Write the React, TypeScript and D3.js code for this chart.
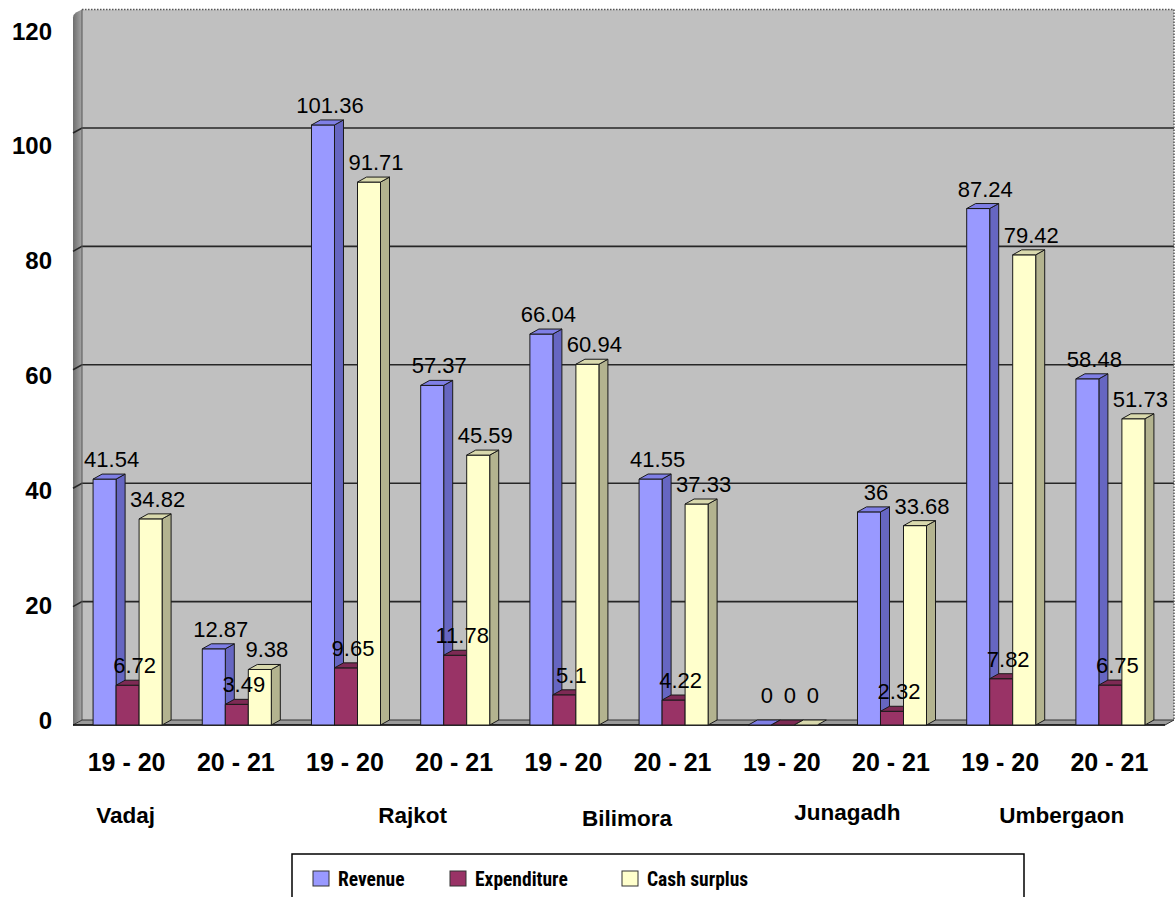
import React from 'react';
import * as d3 from 'd3';

const periods = ['19 - 20', '20 - 21', '19 - 20', '20 - 21', '19 - 20', '20 - 21', '19 - 20', '20 - 21', '19 - 20', '20 - 21'];
const regions = ['Vadaj', 'Rajkot', 'Bilimora', 'Junagadh', 'Umbergaon'];
const revenue = [41.54, 12.87, 101.36, 57.37, 66.04, 41.55, 0, 36, 87.24, 58.48];
const expenditure = [6.72, 3.49, 9.65, 11.78, 5.1, 4.22, 0, 2.32, 7.82, 6.75];
const cashSurplus = [34.82, 9.38, 91.71, 45.59, 60.94, 37.33, 0, 33.68, 79.42, 51.73];
const yTicks = [0, 20, 40, 60, 80, 100, 120];
const seriesNames = ['Revenue', 'Expenditure', 'Cash surplus'];

// face colours per series: front, side, top
const palette = [
  { front: '#9999FF', side: '#6666C2', top: '#7F7FE6' },
  { front: '#993366', side: '#6E2449', top: '#7D2A54' },
  { front: '#FFFFCC', side: '#B3B38F', top: '#D9D9AD' },
];

const W = 1176;
const H = 897;
const DX = 9; // 3d depth
const DY = 5;
const left = 73;
const right = 1165;
const base = 725;

// region label placement (in band steps from the first band centre) and nudges
const regionAnchor = [0, 2.5, 4.5, 6.5, 8.5];
const regionNudge = [{ dx: -2, dy: 0 }, { dx: 12, dy: 0 }, { dx: 8, dy: 3 }, { dx: 10, dy: -3 }, { dx: 6, dy: 0 }];
const legendX = [313, 450, 622];

const App: React.FC = () => {
  const series = [revenue, expenditure, cashSurplus];
  const idx = d3.range(periods.length).map(String);

  const x = d3.scaleBand<string>().domain(idx).range([left, right]).paddingInner(0.368).paddingOuter(0.184);
  const xs = d3.scaleBand<string>().domain(seriesNames).range([0, x.bandwidth()]);
  const y = d3.scaleLinear().domain([0, 120]).range([base, base - 710.4]);
  const yLab = d3.scaleLinear().domain([0, 120]).range([720, 31]);

  const bw = xs.bandwidth();
  const topY = y(120) - DY;

  const bars: JSX.Element[] = [];
  const labels: JSX.Element[] = [];
  idx.forEach((k, i) => {
    seriesNames.forEach((s, j) => {
      const v = series[j][i];
      const x0 = (x(k) as number) + (xs(s) as number);
      const x1 = x0 + bw;
      const yt = y(v);
      const c = palette[j];
      const front = `M${x0},${base}L${x0},${yt}L${x1},${yt}L${x1},${base}Z`;
      const side = `M${x1},${base}L${x1},${yt}L${x1 + DX},${yt - DY}L${x1 + DX},${base - DY}Z`;
      const top = `M${x0},${yt}L${x0 + DX},${yt - DY}L${x1 + DX},${yt - DY}L${x1},${yt}Z`;
      bars.push(
        <g key={`b${i}-${j}`} stroke="#1a1a1a" strokeWidth={1} strokeLinejoin="round">
          {v > 0 && <path d={side} fill={c.side} />}
          {v > 0 && <path d={front} fill={c.front} />}
          <path d={top} fill={c.top} />
        </g>
      );
      const ly = Math.min(yt - 12, base - 22);
      labels.push(
        <text key={`l${i}-${j}`} x={x0 + bw / 2 + 7} y={ly} textAnchor="middle" fontSize={22} fill="#000"
          fontFamily="Liberation Sans, Arial, sans-serif">
          {v}
        </text>
      );
    });
  });

  const step = x.step();
  const firstCentre = (x('0') as number) + x.bandwidth() / 2;

  return (
    <svg width={W} height={H} style={{ position: 'absolute', left: 0, top: 0, background: '#fff' }}
      fontFamily="Liberation Sans, Arial, sans-serif">
      <defs>
        <linearGradient id="sideWall" x1="0" x2="1" y1="0" y2="0">
          <stop offset="0" stopColor="#6e6e6e" />
          <stop offset="0.5" stopColor="#8a8a8a" />
          <stop offset="1" stopColor="#a6a6a6" />
        </linearGradient>
      </defs>

      {/* back wall */}
      <rect x={left + DX} y={topY} width={right - left} height={base - DY - topY} fill="#C0C0C0" />
      {/* side wall */}
      <path d={`M${left},${base}L${left},${y(120) + 3}Q${left},${y(120)} ${left + 3},${y(120) - 2}L${left + DX},${topY}L${left + DX},${base - DY}Z`}
        fill="url(#sideWall)" />

      {/* gridlines */}
      {yTicks.filter(t => t > 0 && t < 120).map(t => (
        <g key={`g${t}`} stroke="#262626" strokeWidth={1.6} fill="none">
          <path d={`M${left},${y(t)}L${left + DX},${y(t) - DY}L${right + DX},${y(t) - DY}`} />
        </g>
      ))}
      {/* dotted top and right edges of back wall */}
      <line x1={left + DX} x2={right + DX} y1={topY} y2={topY} stroke="#555" strokeWidth={1.5} strokeDasharray="1.5 1.5" />
      <line x1={right + DX} x2={right + DX} y1={topY} y2={base - DY} stroke="#555" strokeWidth={1.5} strokeDasharray="1.5 1.5" />
      <line x1={left + DX} x2={left + DX} y1={topY} y2={base - DY} stroke="#555" strokeWidth={1} />

      {/* floor */}
      <path d={`M${left},${base}L${left + DX},${base - DY}L${right + DX},${base - DY}L${right},${base}Z`}
        fill="#9a9a9a" stroke="#333" strokeWidth={1} />
      <line x1={left} x2={right} y1={base} y2={base} stroke="#111" strokeWidth={1.5} />

      {bars}
      {labels}

      {/* y axis labels */}
      {yTicks.map(t => (
        <text key={`y${t}`} x={52} y={yLab(t)} dy="0.36em" textAnchor="end" fontSize={24} fontWeight="bold">
          {t}
        </text>
      ))}

      {/* period labels */}
      {idx.map((k, i) => (
        <text key={`p${i}`} x={(x(k) as number) + x.bandwidth() / 2 - 1} y={771} textAnchor="middle" fontSize={25}
          fontWeight="bold">
          {periods[i]}
        </text>
      ))}

      {/* region labels */}
      {regions.map((r, i) => (
        <text key={`r${i}`} x={firstCentre + regionAnchor[i] * step + regionNudge[i].dx} y={823 + regionNudge[i].dy}
          textAnchor="middle" fontSize={22.5} fontWeight="bold">
          {r}
        </text>
      ))}

      {/* legend */}
      <path d={`M292,${H}L292,854L1024,854L1024,${H}`} fill="#fff" stroke="#000" strokeWidth={1.5} />
      {seriesNames.map((s, j) => (
        <g key={`lg${j}`}>
          <rect x={legendX[j]} y={871} width={16} height={15} fill={palette[j].front} stroke="#333" strokeWidth={1} />
          <text x={legendX[j] + 25} y={886} fontSize={19.5} fontWeight="bold"
            fontFamily="Liberation Sans Narrow, Roboto Condensed, Lato, sans-serif">
            {s}
          </text>
        </g>
      ))}
    </svg>
  );
};

export default App;
